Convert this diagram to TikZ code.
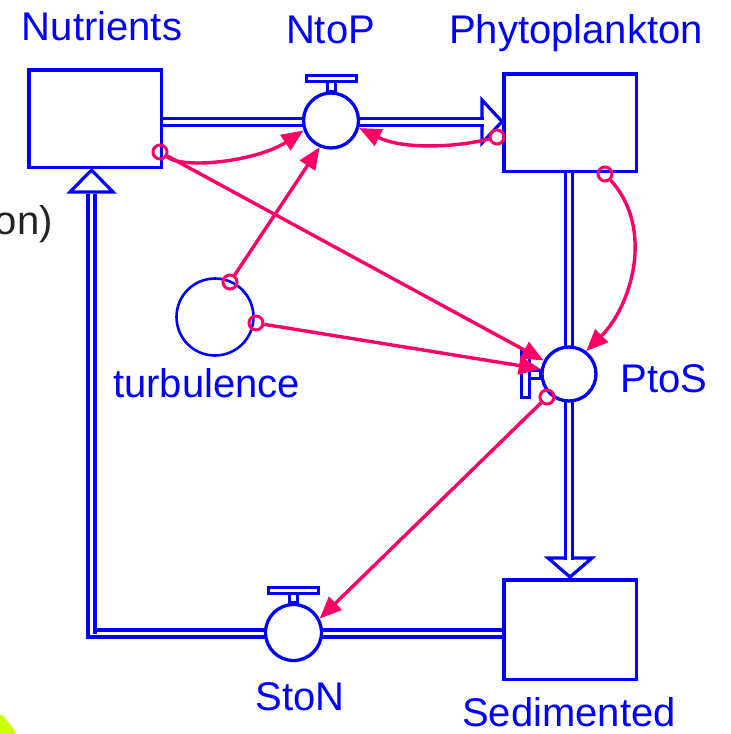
\documentclass[tikz,border=0pt]{standalone}
\usepackage{fontspec}
\setmainfont{Liberation Sans}
\usetikzlibrary{arrows.meta,calc}
\definecolor{sblue}{RGB}{0,0,255}
\definecolor{spink}{RGB}{255,0,102}
\definecolor{syellow}{RGB}{204,255,0}
\definecolor{sgray}{RGB}{34,34,34}
\begin{document}
\begin{tikzpicture}[x=1pt,y=-1pt,
  stock/.style={draw=sblue,line width=3.5pt,fill=white,minimum width=132.5pt,minimum height=97.5pt,inner sep=0pt},
  valve/.style={circle,draw=sblue,line width=3.3pt,fill=white,minimum size=55pt,inner sep=0pt},
  conv/.style={circle,draw=sblue,line width=2.6pt,fill=white,minimum size=77pt,inner sep=0pt},
  pipe/.style={draw=sblue,line width=3.4pt,double=white,double distance=3.6pt},
  pipehead/.style={draw=sblue,line width=3.2pt,fill=white,line join=miter},
  valvebar/.style={draw=sblue,line width=3pt,fill=white},
  conn/.style={draw=spink,line width=3.4pt,-{Triangle[length=22pt,width=18pt]}},
  smallc/.style={circle,draw=spink,line width=3pt,minimum size=14pt,inner sep=0pt},
  lbl/.style={text=sblue,font=\fontsize{40}{40}\selectfont,inner sep=0pt,anchor=base}
]
\useasboundingbox (0,0) rectangle (731,734);
\fill[white] (0,0) rectangle (731,734);

% pipe end coordinates
\coordinate (f1a) at (163,122);
\coordinate (f1b) at (483.5,122);
\coordinate (f2a) at (569,173);
\coordinate (f2b) at (569,559.5);
\coordinate (f3a) at (502,633.5);
\coordinate (f3c) at (91.5,633.5);
\coordinate (f3b) at (91.5,193.5);

% flow pipes
\draw[pipe] (f1a) -- (f1b);
\draw[pipe] (f2a) -- (f2b);
\draw[pipe] (f3a) -- (f3c) -- (f3b);

% stocks
\node[stock] (nut) at (95,118.5) {};
\node[stock] (phy) at (570,122.5) {};
\node[stock,minimum height=99.5pt] (sed) at (570,629.5) {};

% pipe arrowheads
\draw[pipehead] (482,100) -- (502,121.5) -- (482,143) -- cycle;
\draw[pipehead] (548,558) -- (570,577) -- (592,558) -- cycle;
\draw[pipehead] (70,192) -- (91.5,170) -- (113,192) -- cycle;
\draw[pipe] (f1a) -- (f1b);
\draw[pipe] (f2a) -- (f2b);
\draw[pipe] (f3c) -- (f3b);

% valves
\node[valve] (ntop) at (331,120.5) {};
\node[valve,minimum size=54pt] (ptos) at (569,374) {};
\node[valve,minimum size=56pt] (ston) at (293.5,632.5) {};

\draw[valvebar] ($(ntop.north)+(-4,-9.75)$) rectangle ($(ntop.north)+(4,0)$);
\draw[valvebar] ($(ntop.north)+(-25,-16.25)$) rectangle ($(ntop.north)+(25,-9.75)$);
\draw[valvebar] ($(ston.north)+(-4,-9.25)$) rectangle ($(ston.north)+(4,0)$);
\draw[valvebar] ($(ston.north)+(-25,-15.75)$) rectangle ($(ston.north)+(25,-9.25)$);
\draw[valvebar] ($(ptos.west)+(-11.25,-4)$) rectangle ($(ptos.west)+(0,4)$);
\draw[valvebar] ($(ptos.west)+(-18.5,-23.5)$) rectangle ($(ptos.west)+(-11.25,23.5)$);

% converter
\node[conv] (turb) at (215,317) {};

% connector start circles
\node[smallc] (c1) at (160,152) {};
\node[smallc] (c3) at (497,137) {};
\node[smallc] (c4) at (605,174) {};
\node[smallc] (c5) at (230,282) {};
\node[smallc] (c6) at (256,323) {};
\node[smallc] (c7) at (547,397) {};

% connectors
\draw[conn] (c1) .. controls +(25,18) and +(-45,30) .. (ntop.200);
\draw[conn] (c1) -- (ptos.152);
\draw[conn] (c3) .. controls +(-40,10) and +(45,22) .. (ntop.345);
\draw[conn] (c4) .. controls +(50,55) and +(45,-45) .. (ptos.53);
\draw[conn] (c5) -- (ntop.247);
\draw[conn] (c6) -- (ptos.170);
\draw[conn] (c7) -- (ston.28);

% labels
\node[lbl] (lnut) at (102,40) {Nutrients};
\node[lbl] (lntop) at (330.5,43) {NtoP};
\node[lbl] (lphy) at (576,43) {Phytoplankton};
\node[lbl] (lptos) at (664,392) {PtoS};
\node[lbl] (lturb) at (206.5,397) {turbulence};
\node[lbl] (lston) at (300,710) {StoN};
\node[lbl] (lsed) at (569,726) {Sedimented};
\node[lbl,text=sgray,anchor=base east] (lon) at (53,234) {on)};

% corner mark
\fill[syellow] (0,715) -- (3,715) -- (15,731) -- (15,734) -- (0,734) -- cycle;
\end{tikzpicture}
\end{document}
